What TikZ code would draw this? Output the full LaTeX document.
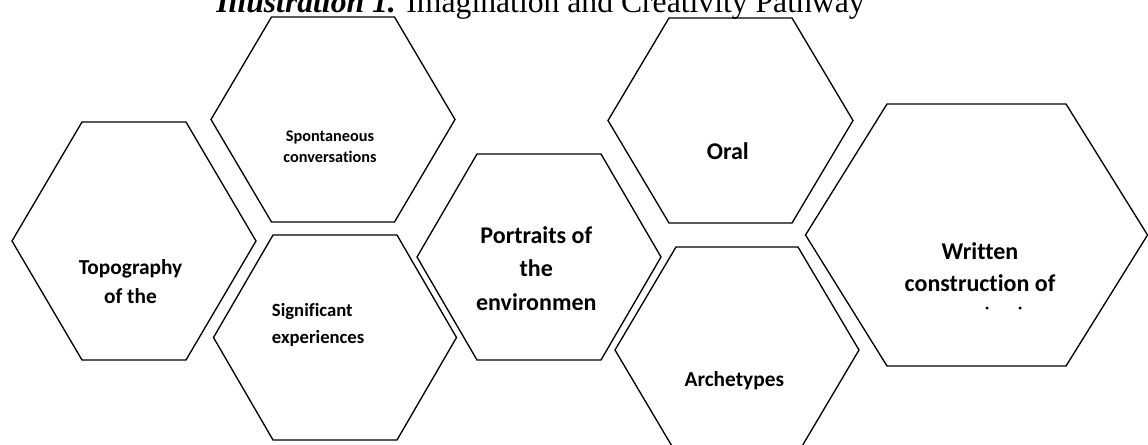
\documentclass[tikz,border=0pt]{standalone}
\usepackage{fontspec}
\setmainfont{Liberation Serif}
\newfontfamily\cellfont[Ligatures=NoCommon]{Carlito}
\usetikzlibrary{positioning}

% hexagon outline: centre x, centre y, half width, half height, half top edge
\newcommand{\hexcell}[5]{%
  \draw[hexline] ({#1-#3},#2) -- ({#1-#5},{#2-#4}) -- ({#1+#5},{#2-#4})
    -- ({#1+#3},#2) -- ({#1+#5},{#2+#4}) -- ({#1-#5},{#2+#4}) -- cycle;}

\begin{document}
\begin{tikzpicture}[
  x=0.75pt, y=-0.75pt,
  hexline/.style={draw=black, line width=1pt, line join=miter},
  cell/.style={inner sep=0pt, align=center, text=black}
]
  \useasboundingbox (0,0) rectangle (1148,445);

  % title
  \node[inner sep=0pt, anchor=base, font=\fontsize{23.75}{28}\selectfont] (title)
    at (540.5,12.5) {\textbf{\textit{Illustration 1.}} Imagination and Creativity Pathway};

  % hexagons
  \hexcell{134}{241}{122}{119}{52}
  \hexcell{333}{119.5}{122}{102.5}{61.5}
  \hexcell{335}{337.5}{121.5}{102.5}{62}
  \hexcell{539}{257}{122}{103}{62}
  \hexcell{730.5}{120.5}{122.5}{102.5}{61.5}
  \hexcell{737}{350}{122}{103}{61}
  \hexcell{976.5}{235}{171}{131}{89.5}

  % labels
  \node[cell, font={\cellfont\bfseries\fontsize{16}{21.75}\selectfont}] (topo)
    at (130.5,282) {Topography\\of the};
  \node[cell, font={\cellfont\bfseries\fontsize{12.2}{15.75}\selectfont}] (spont)
    at (330,147) {Spontaneous\\conversations};
  \node[cell, align=left, anchor=west, font={\cellfont\bfseries\fontsize{14}{20}\selectfont}] (signif)
    at (271.7,325) {Significant\\experiences};
  \node[cell, font={\cellfont\bfseries\fontsize{18}{25.25}\selectfont}] (portr)
    at (536.3,268.6) {Portraits of\\the\\environmen};
  \node[cell, anchor=base, font={\cellfont\bfseries\fontsize{18}{24}\selectfont}] (oral)
    at (727.8,160) {Oral};
  \node[cell, anchor=base, font={\cellfont\bfseries\fontsize{16}{22}\selectfont}] (arch)
    at (734.3,386) {Archetypes};
  \node[cell, font={\cellfont\bfseries\fontsize{18}{24.5}\selectfont}] (written)
    at (980,267) {Written\\construction of};

  % clipped remains of the third line
  \fill (987,308) circle[radius=1.3pt];
  \fill (1020,308) circle[radius=1.3pt];
\end{tikzpicture}
\end{document}
